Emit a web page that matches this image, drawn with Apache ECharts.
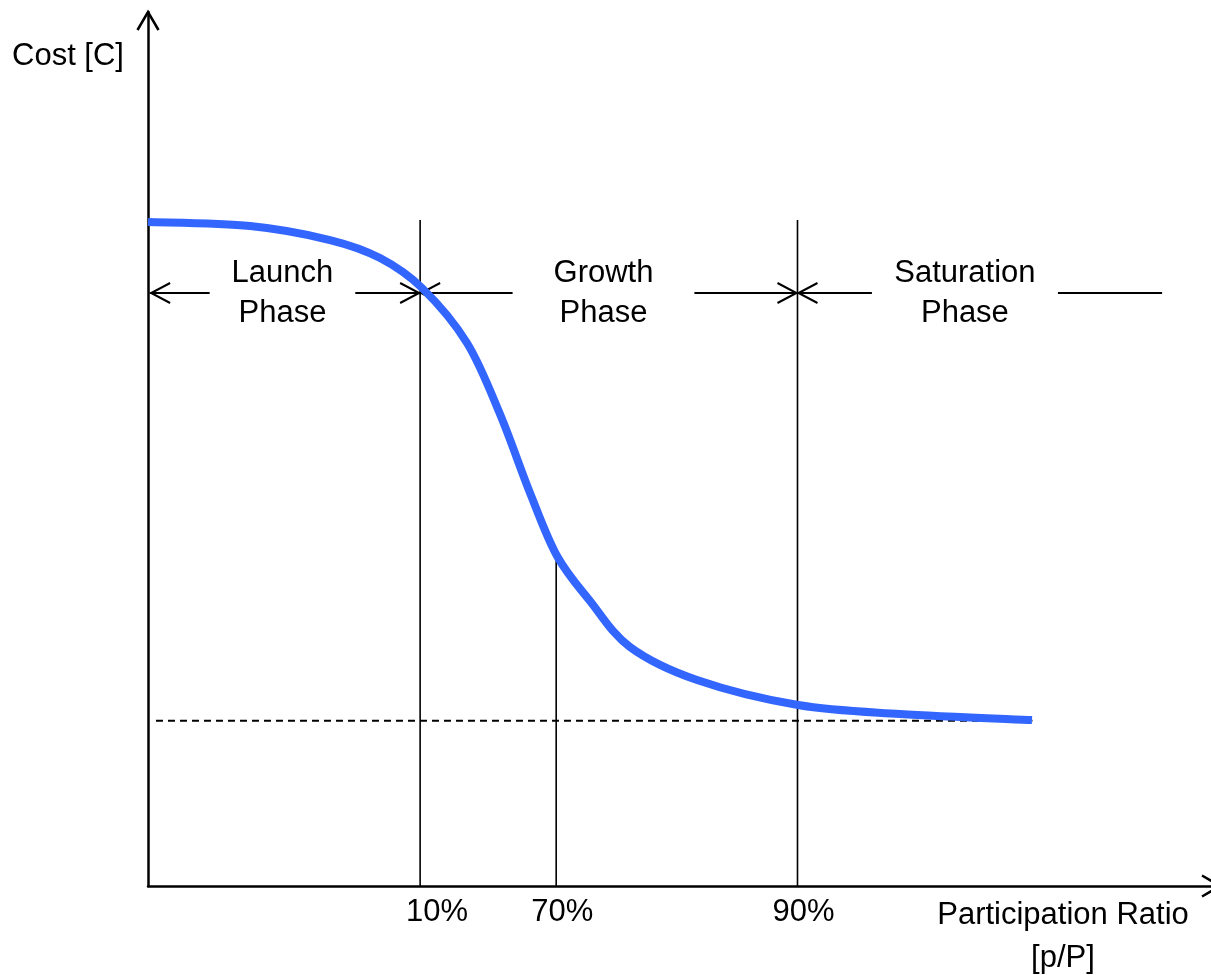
<!DOCTYPE html>
<html><head><meta charset="utf-8">
<script src="https://cdn.jsdelivr.net/npm/echarts@6/dist/echarts.min.js"></script>
<style>html,body{margin:0;padding:0;background:#fff;overflow:hidden}#c{width:1211px;height:975px}</style>
</head><body><div id="c"></div>
<script>
// ---- data (abstract units: x 0..100 of axis length, y 0..100 of axis height) ----
const curveX = [0.00, 9.60, 17.12, 21.83, 25.78, 30.01, 33.11, 35.94, 38.48, 41.58, 45.34, 51.65, 61.15, 70.74, 83.16];
const curveY = [75.97, 75.51, 73.91, 71.85, 68.42, 62.13, 54.00, 44.97, 37.76, 32.61, 27.35, 23.57, 20.71, 19.68, 18.99];
const boundaryX = [25.6, 38.4, 61.1];
const boundaryTop = [76.2, 37.8, 76.2];
const tickLabels = ['10%', '70%', '90%'];
const phaseNames = ['Launch\nPhase', 'Growth\nPhase', 'Saturation\nPhase'];
const phaseStart = [0.2, 25.6, 61.1];
const phaseEnd = [25.6, 61.1, 95.4];
const phaseGapStart = [5.8, 34.3, 68.1];
const phaseGapEnd = [19.5, 51.4, 85.6];
const phaseEndArrow = [1, 1, 0];
const phaseLevel = 67.85;
const floorCost = 18.9;
const floorX = [0.75, 83.2];
const xAxisName = 'Participation Ratio\n[p/P]';
const yAxisName = 'Cost [C]';

// ---- styles ----
const FONT = "'Liberation Sans', Arial, sans-serif";
const FS = 31;
const tickLabelDx = [17, 6, 6];

const chart = echarts.init(document.getElementById('c'), null, {renderer: 'canvas'});

const curveData = curveX.map((x, i) => [x, curveY[i]]);
const boundaryData = boundaryX.map((x, i) => [x, boundaryTop[i]]);
const phaseData = phaseStart.map((s, i) => [s, phaseEnd[i], phaseGapStart[i], phaseGapEnd[i], phaseEndArrow[i]]);
const floorData = floorX.map(x => [x, floorCost]);

function chevron(tip, dir, back, spread, lw) {
  let pts;
  if (dir === 'left') pts = [[tip[0] + back, tip[1] - spread], tip, [tip[0] + back, tip[1] + spread]];
  else if (dir === 'right') pts = [[tip[0] - back, tip[1] - spread], tip, [tip[0] - back, tip[1] + spread]];
  else pts = [[tip[0] - spread, tip[1] + back], tip, [tip[0] + spread, tip[1] + back]];
  return {type: 'polyline', shape: {points: pts}, style: {stroke: '#000', lineWidth: lw, fill: null}};
}

// Catmull-Rom spline through pixel points -> SVG path
function splinePath(P) {
  let d = 'M' + P[0][0] + ' ' + P[0][1];
  for (let i = 0; i < P.length - 1; i++) {
    const p0 = P[Math.max(i - 1, 0)], p1 = P[i], p2 = P[i + 1], p3 = P[Math.min(i + 2, P.length - 1)];
    const c1 = [p1[0] + (p2[0] - p0[0]) / 6, p1[1] + (p2[1] - p0[1]) / 6];
    const c2 = [p2[0] - (p3[0] - p1[0]) / 6, p2[1] - (p3[1] - p1[1]) / 6];
    d += ' C' + c1[0] + ' ' + c1[1] + ' ' + c2[0] + ' ' + c2[1] + ' ' + p2[0] + ' ' + p2[1];
  }
  return d;
}

const option = {
  animation: false,
  backgroundColor: '#fff',
  grid: {left: 148, right: 0, top: 12, bottom: 89, containLabel: false},
  xAxis: {
    type: 'value', min: 0, max: 100,
    axisLine: {show: true, onZero: false, lineStyle: {color: '#000', width: 2.5}},
    axisTick: {show: false}, axisLabel: {show: false}, splitLine: {show: false}
  },
  yAxis: {
    type: 'value', min: 0, max: 100,
    axisLine: {show: true, onZero: false, lineStyle: {color: '#000', width: 2.5}},
    axisTick: {show: false}, axisLabel: {show: false}, splitLine: {show: false}
  },
  series: [
    {
      type: 'line', data: floorData, symbol: 'none', silent: true, z: 2,
      lineStyle: {color: '#000', width: 2, type: [7, 5]}
    },
    {
      type: 'custom', data: boundaryData, z: 3, silent: true,
      renderItem: function (params, api) {
        const x = api.value(0), top = api.value(1);
        const p0 = api.coord([x, 0]), p1 = api.coord([x, top]);
        const i = params.dataIndex;
        return {type: 'group', children: [
          {type: 'line', shape: {x1: p0[0], y1: p0[1], x2: p1[0], y2: p1[1]}, style: {stroke: '#000', lineWidth: 1.6}},
          {type: 'text', style: {text: tickLabels[i], x: p0[0] + tickLabelDx[i], y: p0[1] + 26, align: 'center', verticalAlign: 'middle', fontSize: FS, fontFamily: FONT, fill: '#000'}}
        ]};
      }
    },
    {
      type: 'custom', data: phaseData, z: 4, silent: true,
      renderItem: function (params, api) {
        const i = params.dataIndex;
        const s = api.coord([api.value(0), phaseLevel]);
        const e = api.coord([api.value(1), phaseLevel]);
        const gs = api.coord([api.value(2), phaseLevel]);
        const ge = api.coord([api.value(3), phaseLevel]);
        const y = s[1];
        const children = [
          {type: 'line', shape: {x1: s[0], y1: y, x2: gs[0], y2: y}, style: {stroke: '#000', lineWidth: 2}},
          {type: 'line', shape: {x1: ge[0], y1: y, x2: e[0], y2: y}, style: {stroke: '#000', lineWidth: 2}},
          chevron([s[0] + 1, y], 'left', 19, 10, 2),
          {type: 'text', style: {text: phaseNames[i], x: (gs[0] + ge[0]) / 2, y: y, align: 'center', verticalAlign: 'middle', lineHeight: 40, fontSize: FS, fontFamily: FONT, fill: '#000'}}
        ];
        if (api.value(4)) children.push(chevron([e[0] - 1, y], 'right', 19, 10, 2));
        return {type: 'group', children: children};
      }
    },
    {
      type: 'custom', data: [[0, 0]], z: 5, silent: true,
      renderItem: function (params, api) {
        const o = api.coord([0, 0]);
        const xe = api.coord([100, 0]);
        const ye = api.coord([0, 100]);
        return {type: 'group', children: [
          chevron([ye[0], ye[1]], 'up', 18, 10.5, 2.5),
          chevron([xe[0] + 9, xe[1]], 'right', 18, 10.5, 2.5),
          {type: 'text', style: {text: yAxisName, x: ye[0] - 136, y: ye[1] + 44, align: 'left', verticalAlign: 'middle', fontSize: FS, fontFamily: FONT, fill: '#000'}},
          {type: 'text', style: {text: xAxisName, x: xe[0] - 148, y: o[1] + 51, align: 'center', verticalAlign: 'middle', lineHeight: 43, fontSize: FS, fontFamily: FONT, fill: '#000'}}
        ]};
      }
    },
    { // cost curve: smooth spline through the data points, mapped by the axes
      type: 'custom', data: [[0, 0]], z: 10, silent: true, clip: false,
      renderItem: function (params, api) {
        const P = curveData.map(d => api.coord(d));
        return {type: 'path', shape: {pathData: splinePath(P)},
          style: {stroke: '#3366ff', lineWidth: 8, fill: null, lineCap: 'butt', lineJoin: 'round'}};
      }
    }
  ]
};
chart.setOption(option);
</script>
</body></html>
